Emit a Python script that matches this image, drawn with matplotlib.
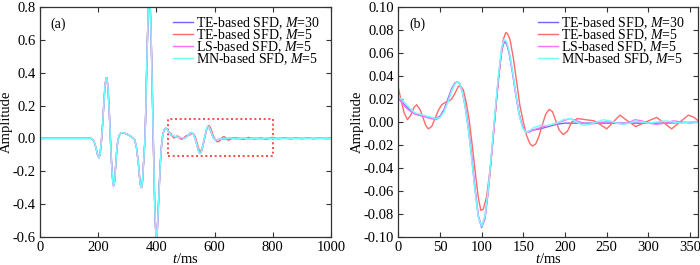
import numpy as np
import matplotlib
matplotlib.use('Agg')
import matplotlib.pyplot as plt
from matplotlib.patches import Rectangle

plt.rcParams['font.family'] = 'Liberation Serif'
plt.rcParams['mathtext.fontset'] = 'custom'
plt.rcParams['mathtext.rm'] = 'Liberation Serif'
plt.rcParams['mathtext.it'] = 'Liberation Serif:italic'
plt.rcParams['axes.unicode_minus'] = False

# shared early part of the trace (all four schemes overlap), t in ms
t_early = [0, 175, 180, 186, 192, 198, 203, 207, 211, 215,
           219, 223, 227, 230, 234, 238, 242, 246, 250, 253,
           256, 260, 264, 268, 273, 280, 288, 296, 305, 314,
           320, 326, 332, 338, 343, 346, 349, 352, 355, 358,
           361, 364, 367, 370, 373, 376, 379, 382, 385, 388,
           391, 394, 397, 400, 403, 406, 410, 414, 418, 422,
           427, 432, 437, 443]
amp_early = [0, 0, -0.005, -0.02, -0.055, -0.10, -0.118, -0.09, -0.02, 0.08,
             0.20, 0.31, 0.37, 0.37, 0.30, 0.17, 0.0, -0.15, -0.26, -0.29,
             -0.27, -0.17, -0.07, -0.01, 0.02, 0.035, 0.033, 0.028, 0.02, 0.01,
             0.0, -0.01, -0.06, -0.15, -0.25, -0.29, -0.30, -0.27, -0.18, -0.09,
             0.0, 0.20, 0.45, 0.65, 0.80, 0.86, 0.80, 0.63, 0.38, 0.10,
             -0.15, -0.38, -0.54, -0.62, -0.57, -0.45, -0.28, -0.14, -0.04, 0.02,
             0.052, 0.062, 0.055, 0.038]

# tail window shown in (b), local time (t_abs = t + OFFSET)
OFFSET = 450

t_blue = [0, 5, 10, 15, 20, 25, 30, 35, 40, 45,
          50, 55, 60, 64, 68, 71, 74, 77, 80, 84,
          88, 92, 96, 100, 104, 108, 112, 116, 120, 124,
          127, 130, 133, 137, 141, 145, 149, 153, 157, 162,
          170, 180, 190, 200, 215, 240, 280, 320, 360, 450, 550]
amp_blue = [0.021, 0.017, 0.013, 0.010, 0.007, 0.006, 0.005, 0.004, 0.003, 0.003,
            0.005, 0.011, 0.021, 0.029, 0.034, 0.035, 0.033, 0.026, 0.015, -0.005,
            -0.030, -0.058, -0.082, -0.092, -0.084, -0.060, -0.028, 0.005, 0.037, 0.062,
            0.070, 0.068, 0.060, 0.043, 0.024, 0.007, -0.004, -0.009, -0.008, -0.007,
            -0.006, -0.004, -0.002, -0.001, -0.001, -0.001, -0.001, -0.001, 0.0, 0.0, 0.0]

t_red = [0, 3, 7, 11, 15, 19, 22, 26, 30, 33,
         36, 40, 44, 48, 52, 56, 60, 64, 68, 72,
         75, 78, 81, 85, 89, 93, 96, 99, 102, 106,
         110, 114, 118, 122, 126, 129, 131, 134, 138, 142,
         146, 150, 154, 158, 161, 165, 169, 173, 177, 181,
         185, 189, 193, 198, 203, 208, 215, 225, 235, 242,
         250, 258, 266, 275, 285, 297, 310, 319, 328, 338,
         348, 355, 360, 370, 390, 410, 430, 450, 470, 490,
         510, 530, 550]
amp_red = [0.030, 0.020, 0.008, 0.002, 0.006, 0.013, 0.015, 0.011, 0.003, -0.003,
           -0.006, -0.004, 0.003, 0.010, 0.015, 0.017, 0.018, 0.020, 0.025, 0.031,
           0.031, 0.028, 0.019, 0.002, -0.022, -0.048, -0.066, -0.077, -0.076, -0.065,
           -0.042, -0.012, 0.020, 0.050, 0.072, 0.078, 0.077, 0.072, 0.056, 0.035,
           0.014, 0.000, -0.012, -0.019, -0.021, -0.019, -0.012, -0.002, 0.007, 0.011,
           0.009, 0.001, -0.007, -0.011, -0.008, 0.000, 0.003, 0.002, 0.001, -0.002,
           -0.006, 0.000, 0.006, 0.001, -0.004, 0.000, 0.004, -0.001, -0.006, 0.000,
           0.006, 0.004, 0.001, -0.004, 0.004, -0.004, 0.003, -0.003, 0.003, -0.003,
           0.002, -0.002, 0.0]

t_mag = [0, 5, 10, 15, 20, 25, 30, 35, 40, 45,
         50, 55, 60, 64, 68, 71, 74, 77, 80, 84,
         88, 92, 96, 100, 104, 108, 112, 116, 120, 124,
         127, 130, 133, 137, 141, 145, 149, 153, 157, 162,
         170, 180, 190, 198, 206, 214, 222, 230, 238, 246,
         254, 262, 270, 278, 284, 292, 300, 310, 320, 330,
         340, 350, 360, 450, 550]
amp_mag = [0.021, 0.016, 0.012, 0.009, 0.007, 0.006, 0.005, 0.004, 0.003, 0.002,
           0.004, 0.010, 0.020, 0.028, 0.034, 0.035, 0.033, 0.026, 0.015, -0.005,
           -0.030, -0.058, -0.082, -0.091, -0.083, -0.060, -0.028, 0.005, 0.038, 0.063,
           0.071, 0.069, 0.061, 0.044, 0.024, 0.007, -0.004, -0.009, -0.009, -0.007,
           -0.005, -0.003, -0.001, 0.001, 0.003, 0.001, -0.001, -0.002, -0.001, 0.000,
           0.000, -0.001, -0.002, 0.000, 0.002, 0.001, -0.001, -0.002, -0.001, 0.001,
           0.000, -0.001, 0.000, 0.0, 0.0]

t_cyan = t_mag
amp_cyan = [0.022, 0.019, 0.015, 0.011, 0.008, 0.007, 0.006, 0.005, 0.004, 0.003,
            0.004, 0.009, 0.018, 0.027, 0.033, 0.035, 0.033, 0.026, 0.014, -0.006,
            -0.032, -0.060, -0.083, -0.091, -0.082, -0.058, -0.025, 0.008, 0.040, 0.065,
            0.072, 0.070, 0.062, 0.045, 0.025, 0.006, -0.005, -0.009, -0.008, -0.005,
            -0.003, -0.003, -0.001, 0.002, 0.003, 0.000, -0.003, -0.002, 0.000, 0.002,
            0.001, -0.001, -0.002, -0.001, 0.001, 0.000, -0.001, 0.000, 0.001, 0.000,
            -0.001, 0.000, 0.000, 0.0, 0.0]

labels = ['TE-based SFD, $M$=30', 'TE-based SFD, $M$=5',
          'LS-based SFD, $M$=5', 'MN-based SFD, $M$=5']
colors = ['#6a6aff', '#ff6a6a', '#ff70ff', '#70ffff']
tails = [(t_blue, amp_blue), (t_red, amp_red), (t_mag, amp_mag), (t_cyan, amp_cyan)]

# dotted box marking the zoomed window in (a)
ZOOM_BOX = [440, 800, -0.11, 0.12]

fig = plt.figure(figsize=(7, 2.65), dpi=100)
ax1 = fig.add_axes([0.0571, 0.1068, 0.4157, 0.8657])
ax2 = fig.add_axes([0.569, 0.1068, 0.4286, 0.8657])

for (tt, aa), c, lab in zip(tails, colors, labels):
    t_full = np.concatenate([t_early, OFFSET + np.array(tt)])
    a_full = np.concatenate([amp_early, aa])
    ax1.plot(t_full, a_full, color=c, lw=1.0, label=lab)
    ax2.plot(tt, aa, color=c, lw=1.0, label=lab)

ax1.add_patch(Rectangle((ZOOM_BOX[0], ZOOM_BOX[2]), ZOOM_BOX[1] - ZOOM_BOX[0],
                        ZOOM_BOX[3] - ZOOM_BOX[2], fill=False, ec='#ff3030',
                        ls=(0, (1.2, 1.6)), lw=1.2))

ax1.set_xlim(0, 1000)
ax1.set_ylim(-0.6, 0.8)
ax1.set_xticks(np.arange(0, 1001, 200))
ax1.set_yticks(np.arange(-0.6, 0.81, 0.2))
ax1.yaxis.set_major_formatter(plt.FormatStrFormatter('%.1f'))

ax2.set_xlim(0, 360)
ax2.set_ylim(-0.1, 0.1)
ax2.set_xticks(np.arange(0, 351, 50))
ax2.set_yticks(np.arange(-0.1, 0.101, 0.02))
ax2.yaxis.set_major_formatter(plt.FormatStrFormatter('%.2f'))

for ax, tag in [(ax1, '(a)'), (ax2, '(b)')]:
    ax.tick_params(direction='in', top=True, right=True, length=3.5, width=0.8,
                   labelsize=10.5, pad=3, color='#333333')
    for s in ax.spines.values():
        s.set_linewidth(0.9)
        s.set_color('#333333')
    ax.set_xlabel('$t$/ms', fontsize=10.5, labelpad=-1)
    ax.set_ylabel('Amplitude', fontsize=10.5, labelpad=0)
    ax.text(0.036, 0.928, tag, transform=ax.transAxes, fontsize=10, va='center')
    ax.legend(loc='upper left', bbox_to_anchor=(0.457 if ax is ax1 else 0.466, 0.965),
              frameon=False, fontsize=10, handlelength=1.45, handletextpad=0.2,
              labelspacing=-0.27, borderpad=0, borderaxespad=0)

fig.savefig('out.png', dpi=100)
